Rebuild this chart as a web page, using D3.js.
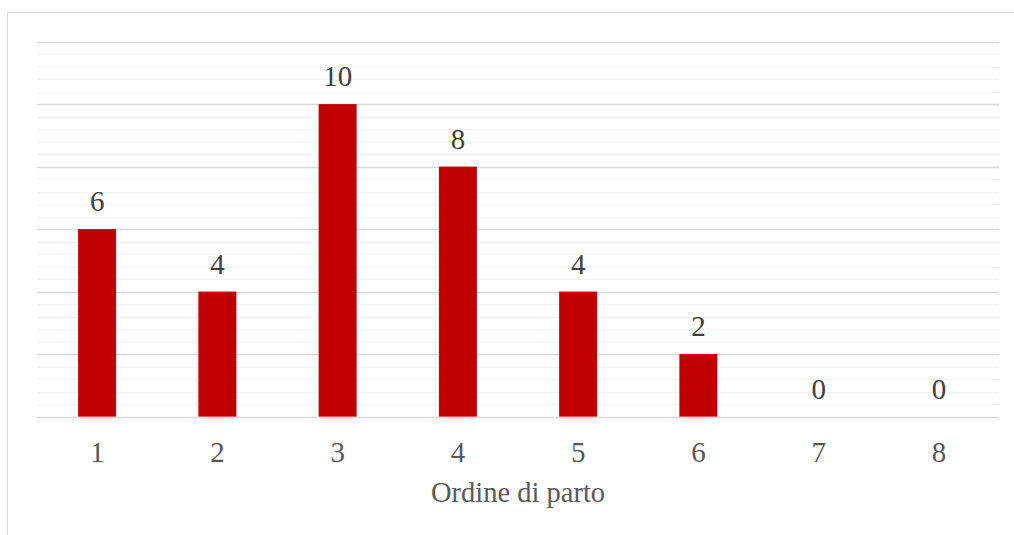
<!DOCTYPE html>
<html><head><meta charset="utf-8">
<script src="https://cdn.jsdelivr.net/npm/d3@7"></script>
<style>
html,body{margin:0;padding:0;background:#fff;}
svg{display:block;}
</style>
</head><body>
<svg id="chart" width="1014" height="535"></svg>
<script>
const categories = ["1","2","3","4","5","6","7","8"];
const values = [6,4,10,8,4,2,0,0];
const majorTicks = [0,2,4,6,8,10,12];
const xTitle = "Ordine di parto";

const svg = d3.select("#chart");
const W = 1014, H = 535;
const m = {left:37, right:15, top:41.6, bottom:118.4};
const x0 = m.left, x1 = W - m.right, yTop = m.top, yBot = H - m.bottom;

// outer border (only top & left visible)
svg.append("rect").attr("x",7.5).attr("y",12.5).attr("width",1100).attr("height",600)
  .attr("fill","none").attr("stroke","#d9d9d9").attr("stroke-width",1);

const x = d3.scaleBand().domain(categories).range([x0,x1]).paddingInner(0.684).paddingOuter(0.342);
const y = d3.scaleLinear().domain([0,12]).range([yBot,yTop]);

const minorTicks = d3.range(0,12.001,0.4).filter(v => !majorTicks.some(t => Math.abs(t-v)<1e-6));
svg.append("g").selectAll("line").data(minorTicks).join("line")
  .attr("x1",x0).attr("x2",x1).attr("y1",d=>Math.round(y(d))+0.5).attr("y2",d=>Math.round(y(d))+0.5)
  .attr("stroke","#f2f2f2").attr("stroke-width",1.2);
svg.append("g").selectAll("line").data(majorTicks).join("line")
  .attr("x1",x0).attr("x2",x1).attr("y1",d=>Math.round(y(d))+0.5).attr("y2",d=>Math.round(y(d))+0.5)
  .attr("stroke","#d9d9d9").attr("stroke-width",1.3);

svg.append("g").selectAll("rect").data(values).join("rect")
  .attr("x",(d,i)=>x(categories[i])).attr("width",x.bandwidth())
  .attr("y",d=>y(d)).attr("height",d=>y(0)-y(d)).attr("fill","#c00000");

const font = "'Liberation Serif','Times New Roman',serif";
svg.append("g").selectAll("text").data(values).join("text")
  .attr("x",(d,i)=>x(categories[i])+x.bandwidth()/2).attr("y",d=>y(d)-18)
  .attr("text-anchor","middle").attr("font-family",font).attr("font-size",29).attr("fill","#404040")
  .text(d=>d);

const xAxis = d3.axisBottom(x).tickSize(0).tickPadding(0);
const gx = svg.append("g").attr("transform",`translate(0,${yBot})`).call(xAxis);
gx.select(".domain").remove();
gx.selectAll("text").attr("font-family",font).attr("font-size",29).attr("fill","#595959")
  .attr("dy",null).attr("y",45).attr("dominant-baseline","alphabetic");

svg.append("text").attr("x",(x0+x1)/2).attr("y",501.5).attr("text-anchor","middle")
  .attr("font-family",font).attr("font-size",28.5).attr("fill","#595959").text(xTitle);
</script>
</body></html>
